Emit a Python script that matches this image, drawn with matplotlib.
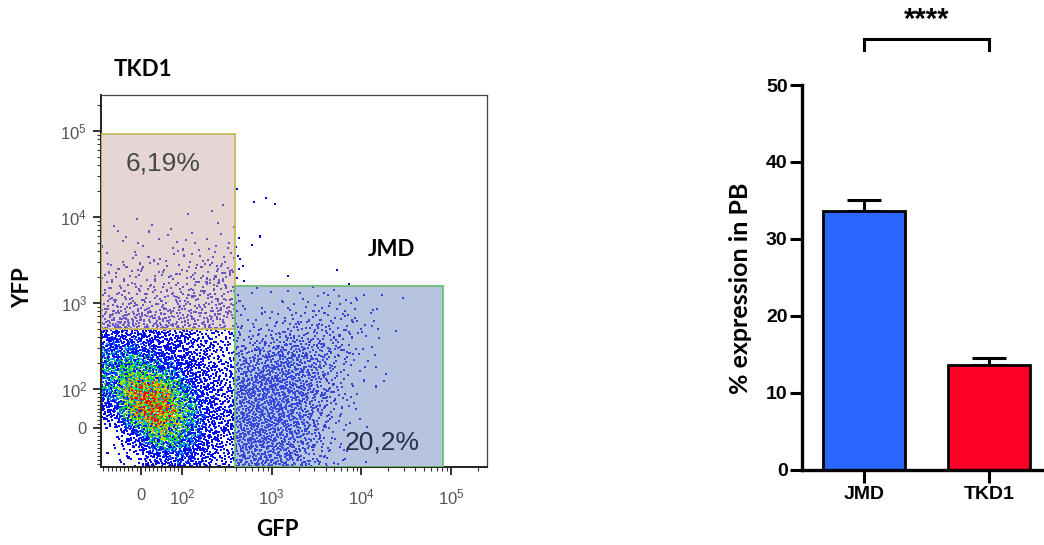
import numpy as np
import matplotlib
matplotlib.use("Agg")
import matplotlib.pyplot as plt
from matplotlib.colors import LinearSegmentedColormap
from matplotlib.patches import Rectangle

plt.rcParams["font.family"] = ["Liberation Sans", "DejaVu Sans"]

# ---------------- flow panel ----------------
# events per 0.25-decade cell
# rows: YFP bottom -> top, columns: GFP left -> right
GRID_X0, GRID_Y0, GRID_STEP = 1.10, 1.09, 0.25
event_density = np.array([
    [2, 20, 80, 110, 70, 35, 70, 70, 55, 30, 8, 1, 0, 0],
    [5, 80, 220, 180, 100, 50, 85, 85, 70, 40, 9, 2, 0, 0],
    [60, 250, 330, 220, 110, 55, 90, 95, 80, 45, 12, 2, 0, 0],
    [140, 290, 300, 170, 90, 50, 85, 95, 85, 55, 18, 3, 0, 0],
    [150, 190, 150, 110, 70, 40, 60, 75, 75, 55, 22, 5, 1, 0],
    [120, 120, 90, 75, 55, 30, 30, 45, 55, 45, 22, 8, 2, 0],
    [70, 70, 60, 50, 45, 35, 8, 15, 22, 27, 20, 10, 3, 0],
    [25, 28, 28, 28, 32, 36, 4, 5, 7, 10, 10, 6, 3, 1],
    [15, 17, 17, 17, 20, 25, 2, 1, 1, 1, 2, 1, 0, 0],
    [7, 9, 9, 9, 12, 16, 2, 0, 0, 0, 0, 0, 0, 0],
    [2, 3, 3, 3, 4, 6, 2, 0, 0, 0, 0, 0, 0, 0],
    [1, 1, 1, 1, 1, 3, 2, 0, 0, 0, 0, 0, 0, 0],
    [0, 0, 0, 0, 0, 1, 1, 1, 0, 0, 0, 0, 0, 0],
], dtype=float)

gfp_limits = [-96, 251000]
yfp_limits = [-98, 263000]
tkd1_gate_gfp = [-96, 390]
tkd1_gate_yfp = [500, 93000]
jmd_gate_gfp = [390, 81000]
jmd_gate_yfp = [-98, 1570]
tkd1_pct = "6,19%"
jmd_pct = "20,2%"

axis_ticks = [0, 100, 1000, 10000, 100000]
axis_ticklabels = ["0", r"$\mathregular{10^2}$", r"$\mathregular{10^3}$",
                   r"$\mathregular{10^4}$", r"$\mathregular{10^5}$"]

# ---------------- bar panel ----------------
groups = ["JMD", "TKD1"]
means = [33.6, 13.6]
sems = [1.5, 0.85]
bar_colors = ["#2b66ff", "#ff0026"]
signif = "****"

ZERO_POS = 0.46  # decades between 0 and 10^2 on the biexponential axis


def fwd(v):
    v = np.asarray(v, dtype=float)
    lin = 2 - ZERO_POS + ZERO_POS * v / 100.0
    return np.where(v > 100, np.log10(np.maximum(v, 100)), lin)


def inv(u):
    u = np.asarray(u, dtype=float)
    lin = (u - 2 + ZERO_POS) * 100.0 / ZERO_POS
    return np.where(u > 2, 10 ** np.clip(u, 2, 12), lin)


def halton(n, base):
    idx = np.arange(1, n + 1)
    out = np.zeros(n)
    f = 1.0
    while np.any(idx > 0):
        f /= base
        out += f * (idx % base)
        idx //= base
    return out


def bilinear(grid, cx, cy):
    ny, nx = grid.shape
    cx = np.clip(cx, 0, nx - 1)
    cy = np.clip(cy, 0, ny - 1)
    i0 = np.minimum(np.floor(cx).astype(int), nx - 2)
    j0 = np.minimum(np.floor(cy).astype(int), ny - 2)
    tx = cx - i0
    ty = cy - j0
    bot = (1 - tx) * grid[j0, i0] + tx * grid[j0, i0 + 1]
    top = (1 - tx) * grid[j0 + 1, i0] + tx * grid[j0 + 1, i0 + 1]
    return (1 - ty) * bot + ty * top


# place events where the density says, with a deterministic quasi-random sequence
ny, nx = event_density.shape
dmax = event_density.max()
n_cand = int(nx * ny * dmax)
hu, hv, ha, hc = halton(n_cand, 2), halton(n_cand, 3), halton(n_cand, 5), halton(n_cand, 7)
u = GRID_X0 + hu * nx * GRID_STEP
v = GRID_Y0 + hv * ny * GRID_STEP
dens = bilinear(event_density, (u - GRID_X0) / GRID_STEP - 0.5, (v - GRID_Y0) / GRID_STEP - 0.5)
keep = ha * dmax < dens
gfp = inv(u[keep])
yfp = inv(v[keep])
cval = dens[keep] * (0.45 + 0.95 * hc[keep])

flow_cmap = LinearSegmentedColormap.from_list("flow", [
    (0.0, "#0000d8"), (0.35, "#0010ff"), (0.48, "#00b8e8"), (0.58, "#00dc00"),
    (0.75, "#b4e600"), (0.88, "#ffa000"), (1.0, "#ff0000")])

fig = plt.figure(figsize=(10.44, 5.45), dpi=100)
W, H = 1044, 545

ax = fig.add_axes([101 / W, 1 - 467 / H, 386 / W, 372 / H])
ax.set_xscale("function", functions=(fwd, inv))
ax.set_yscale("function", functions=(fwd, inv))
ax.set_xlim(gfp_limits)
ax.set_ylim(yfp_limits)

ax.scatter(gfp, yfp, c=cval, cmap=flow_cmap, vmin=0, vmax=dmax, s=2.2,
           marker="s", linewidths=0, zorder=1)

for gx, gy, face, edge in [(tkd1_gate_gfp, tkd1_gate_yfp, (0.80, 0.68, 0.68), "#c8b85e"),
                           (jmd_gate_gfp, jmd_gate_yfp, (0.43, 0.54, 0.78), "#6cc072")]:
    ax.add_patch(Rectangle((gx[0], gy[0]), gx[1] - gx[0], gy[1] - gy[0],
                           facecolor=face, edgecolor="none", alpha=0.5, zorder=2))
    ax.add_patch(Rectangle((gx[0], gy[0]), gx[1] - gx[0], gy[1] - gy[0],
                           facecolor="none", edgecolor=edge, linewidth=1.3, zorder=3))

ax.text(0.161, 0.817, tkd1_pct, transform=ax.transAxes, ha="center", va="center",
        fontsize=19, color="#484848", zorder=4)
ax.text(0.728, 0.066, jmd_pct, transform=ax.transAxes, ha="center", va="center",
        fontsize=19, color="#2a2f45", zorder=4)

minor = [m * 10 ** k for k in (2, 3, 4) for m in range(2, 10)] + [200000]
minor += [t for t in range(-90, 100, 10) if t != 0]
for axis in (ax.xaxis, ax.yaxis):
    axis.set_ticks(axis_ticks)
    axis.set_ticklabels(axis_ticklabels)
    axis.set_ticks(minor, minor=True)
ax.tick_params(which="major", length=6, width=1.3, color="#222222",
               labelsize=12, labelcolor="#555555")
ax.tick_params(which="minor", length=3, width=0.8, color="#333333")
ax.tick_params(axis="x", which="major", pad=9)
ax.tick_params(axis="y", which="major", pad=4)
for side in ("top", "right"):
    ax.spines[side].set_color("#444444")
    ax.spines[side].set_linewidth(0.9)
for side in ("left", "bottom"):
    ax.spines[side].set_color("#222222")
    ax.spines[side].set_linewidth(1.4)

lbl = dict(family=["Lato", "DejaVu Sans"], fontweight="bold", fontsize=16,
           ha="center", va="center")
fig.text(143 / W, 1 - 70 / H, "TKD1", **lbl)
fig.text(392 / W, 1 - 250 / H, "JMD", **lbl)
fig.text(23 / W, 1 - 288 / H, "YFP", rotation=90, **lbl)
fig.text(277 / W, 1 - 530 / H, "GFP", **lbl)

# ---------------- bar chart ----------------
bx = fig.add_axes([801.5 / W, 1 - 469.5 / H, 250 / W, 384.5 / H])
xpos = np.arange(len(groups))
bx.errorbar(xpos, means, yerr=[np.zeros(len(sems)), sems], fmt="none",
            ecolor="black", elinewidth=2.2, capsize=12, capthick=2.2, zorder=1)
bx.bar(xpos, means, width=0.66, color=bar_colors, edgecolor="black",
       linewidth=2, zorder=2)
bx.set_xlim(-0.5, 1.5)
bx.set_ylim(0, 50)
bx.set_yticks(np.arange(0, 51, 10))
bx.set_xticks(xpos)
bx.set_xticklabels(groups)
for side in ("top", "right"):
    bx.spines[side].set_visible(False)
for side in ("left", "bottom"):
    bx.spines[side].set_linewidth(2.4)
bx.tick_params(length=9, width=2.2, labelsize=14)
bx.tick_params(axis="y", pad=1)
bx.tick_params(axis="x", pad=3)
for t in bx.get_xticklabels() + bx.get_yticklabels():
    t.set_fontweight("bold")

bx.plot([0, 0, 1, 1], [54.6, 56, 56, 54.6], color="black", lw=2.2,
        clip_on=False, solid_joinstyle="miter")
bx.text(0.5, 58.4, signif, ha="center", va="center", fontsize=21,
        fontweight="bold", clip_on=False)

fig.text(740 / W, 1 - 288 / H, "% expression in PB", rotation=90,
         family=["Lato", "DejaVu Sans"], fontweight="bold", fontsize=18,
         ha="center", va="center")

fig.savefig("out.png", dpi=100)
